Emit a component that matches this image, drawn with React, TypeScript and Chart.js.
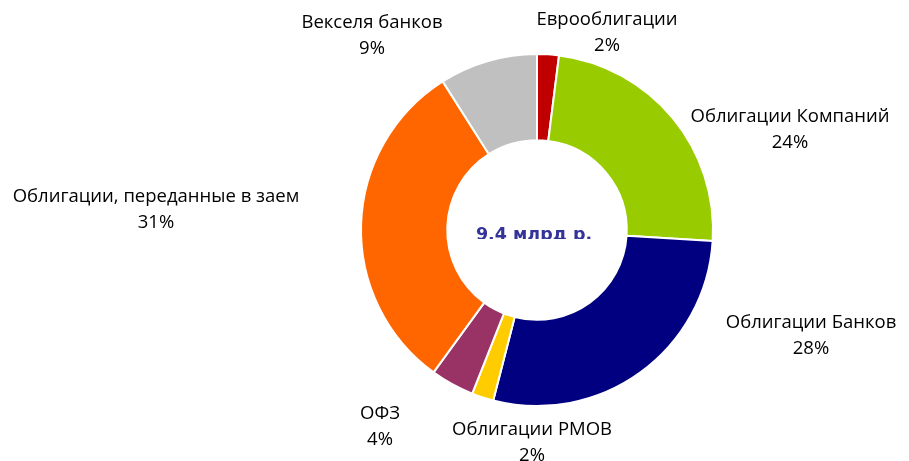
import React, { useEffect, useRef } from "react";
import { Chart, registerables } from "chart.js";

Chart.register(...registerables);

const categories = [
  "Еврооблигации",
  "Облигации Компаний",
  "Облигации Банков",
  "Облигации РМОВ",
  "ОФЗ",
  "Облигации, переданные в заем",
  "Векселя банков",
];
const shares = [2, 24, 28, 2, 4, 31, 9];
const shareLabels = ["2%", "24%", "28%", "2%", "4%", "31%", "9%"];
const sliceColors = ["#C00000", "#99CC00", "#000080", "#FFCC00", "#993366", "#FF6600", "#C0C0C0"];
const totalLabel = "9,4 млрд р.";

// label block centres relative to the doughnut centre (px)
const labelOffsets: [number, number][] = [
  [70, -197],
  [253, -100],
  [274, 106],
  [-5, 213],
  [-157, 197],
  [-381, -20],
  [-165, -194],
];

const LABEL_FONT = "18.5px 'Open Sans', sans-serif";
const LINE_GAP = 26;

const labelPlugin = {
  id: "outerLabels",
  afterDraw(chart: any) {
    const ctx = chart.ctx;
    const arc = chart.getDatasetMeta(0).data[0];
    if (!arc) return;
    const cx = arc.x;
    const cy = arc.y;
    ctx.save();
    ctx.font = LABEL_FONT;
    ctx.fillStyle = "#000000";
    ctx.textAlign = "center";
    ctx.textBaseline = "middle";
    categories.forEach((name, i) => {
      const [dx, dy] = labelOffsets[i];
      ctx.fillText(name, cx + dx, cy + dy - LINE_GAP / 2);
      ctx.fillText(shareLabels[i], cx + dx, cy + dy + LINE_GAP / 2);
    });
    // centre caption (clipped at the bottom like the original)
    ctx.beginPath();
    ctx.rect(cx - 80, cy - 30, 160, 39);
    ctx.clip();
    ctx.font = "bold 17.5px 'DejaVu Sans', Verdana, sans-serif";
    ctx.fillStyle = "#333399";
    ctx.textBaseline = "alphabetic";
    ctx.fillText(totalLabel, cx - 3, cy + 10);
    ctx.restore();
  },
};

export default function App() {
  const ref = useRef<HTMLCanvasElement | null>(null);
  useEffect(() => {
    if (!ref.current) return;
    const chart = new Chart(ref.current, {
      type: "doughnut",
      data: {
        labels: categories,
        datasets: [
          {
            data: shares,
            backgroundColor: sliceColors,
            borderColor: "#FFFFFF",
            borderWidth: 2,
          },
        ],
      },
      options: {
        animation: false,
        responsive: false,
        cutout: "51%",
        layout: { padding: { left: 360, right: 195, top: 53, bottom: 54 } },
        plugins: {
          legend: { display: false },
          tooltip: { enabled: false },
        },
      },
      plugins: [labelPlugin],
    });
    return () => chart.destroy();
  }, []);
  return (
    <div style={{ position: "absolute", left: 0, top: 0, width: 909, height: 461, background: "#fff" }}>
      <canvas ref={ref} width={909} height={461} style={{ width: 909, height: 461 }} />
    </div>
  );
}
